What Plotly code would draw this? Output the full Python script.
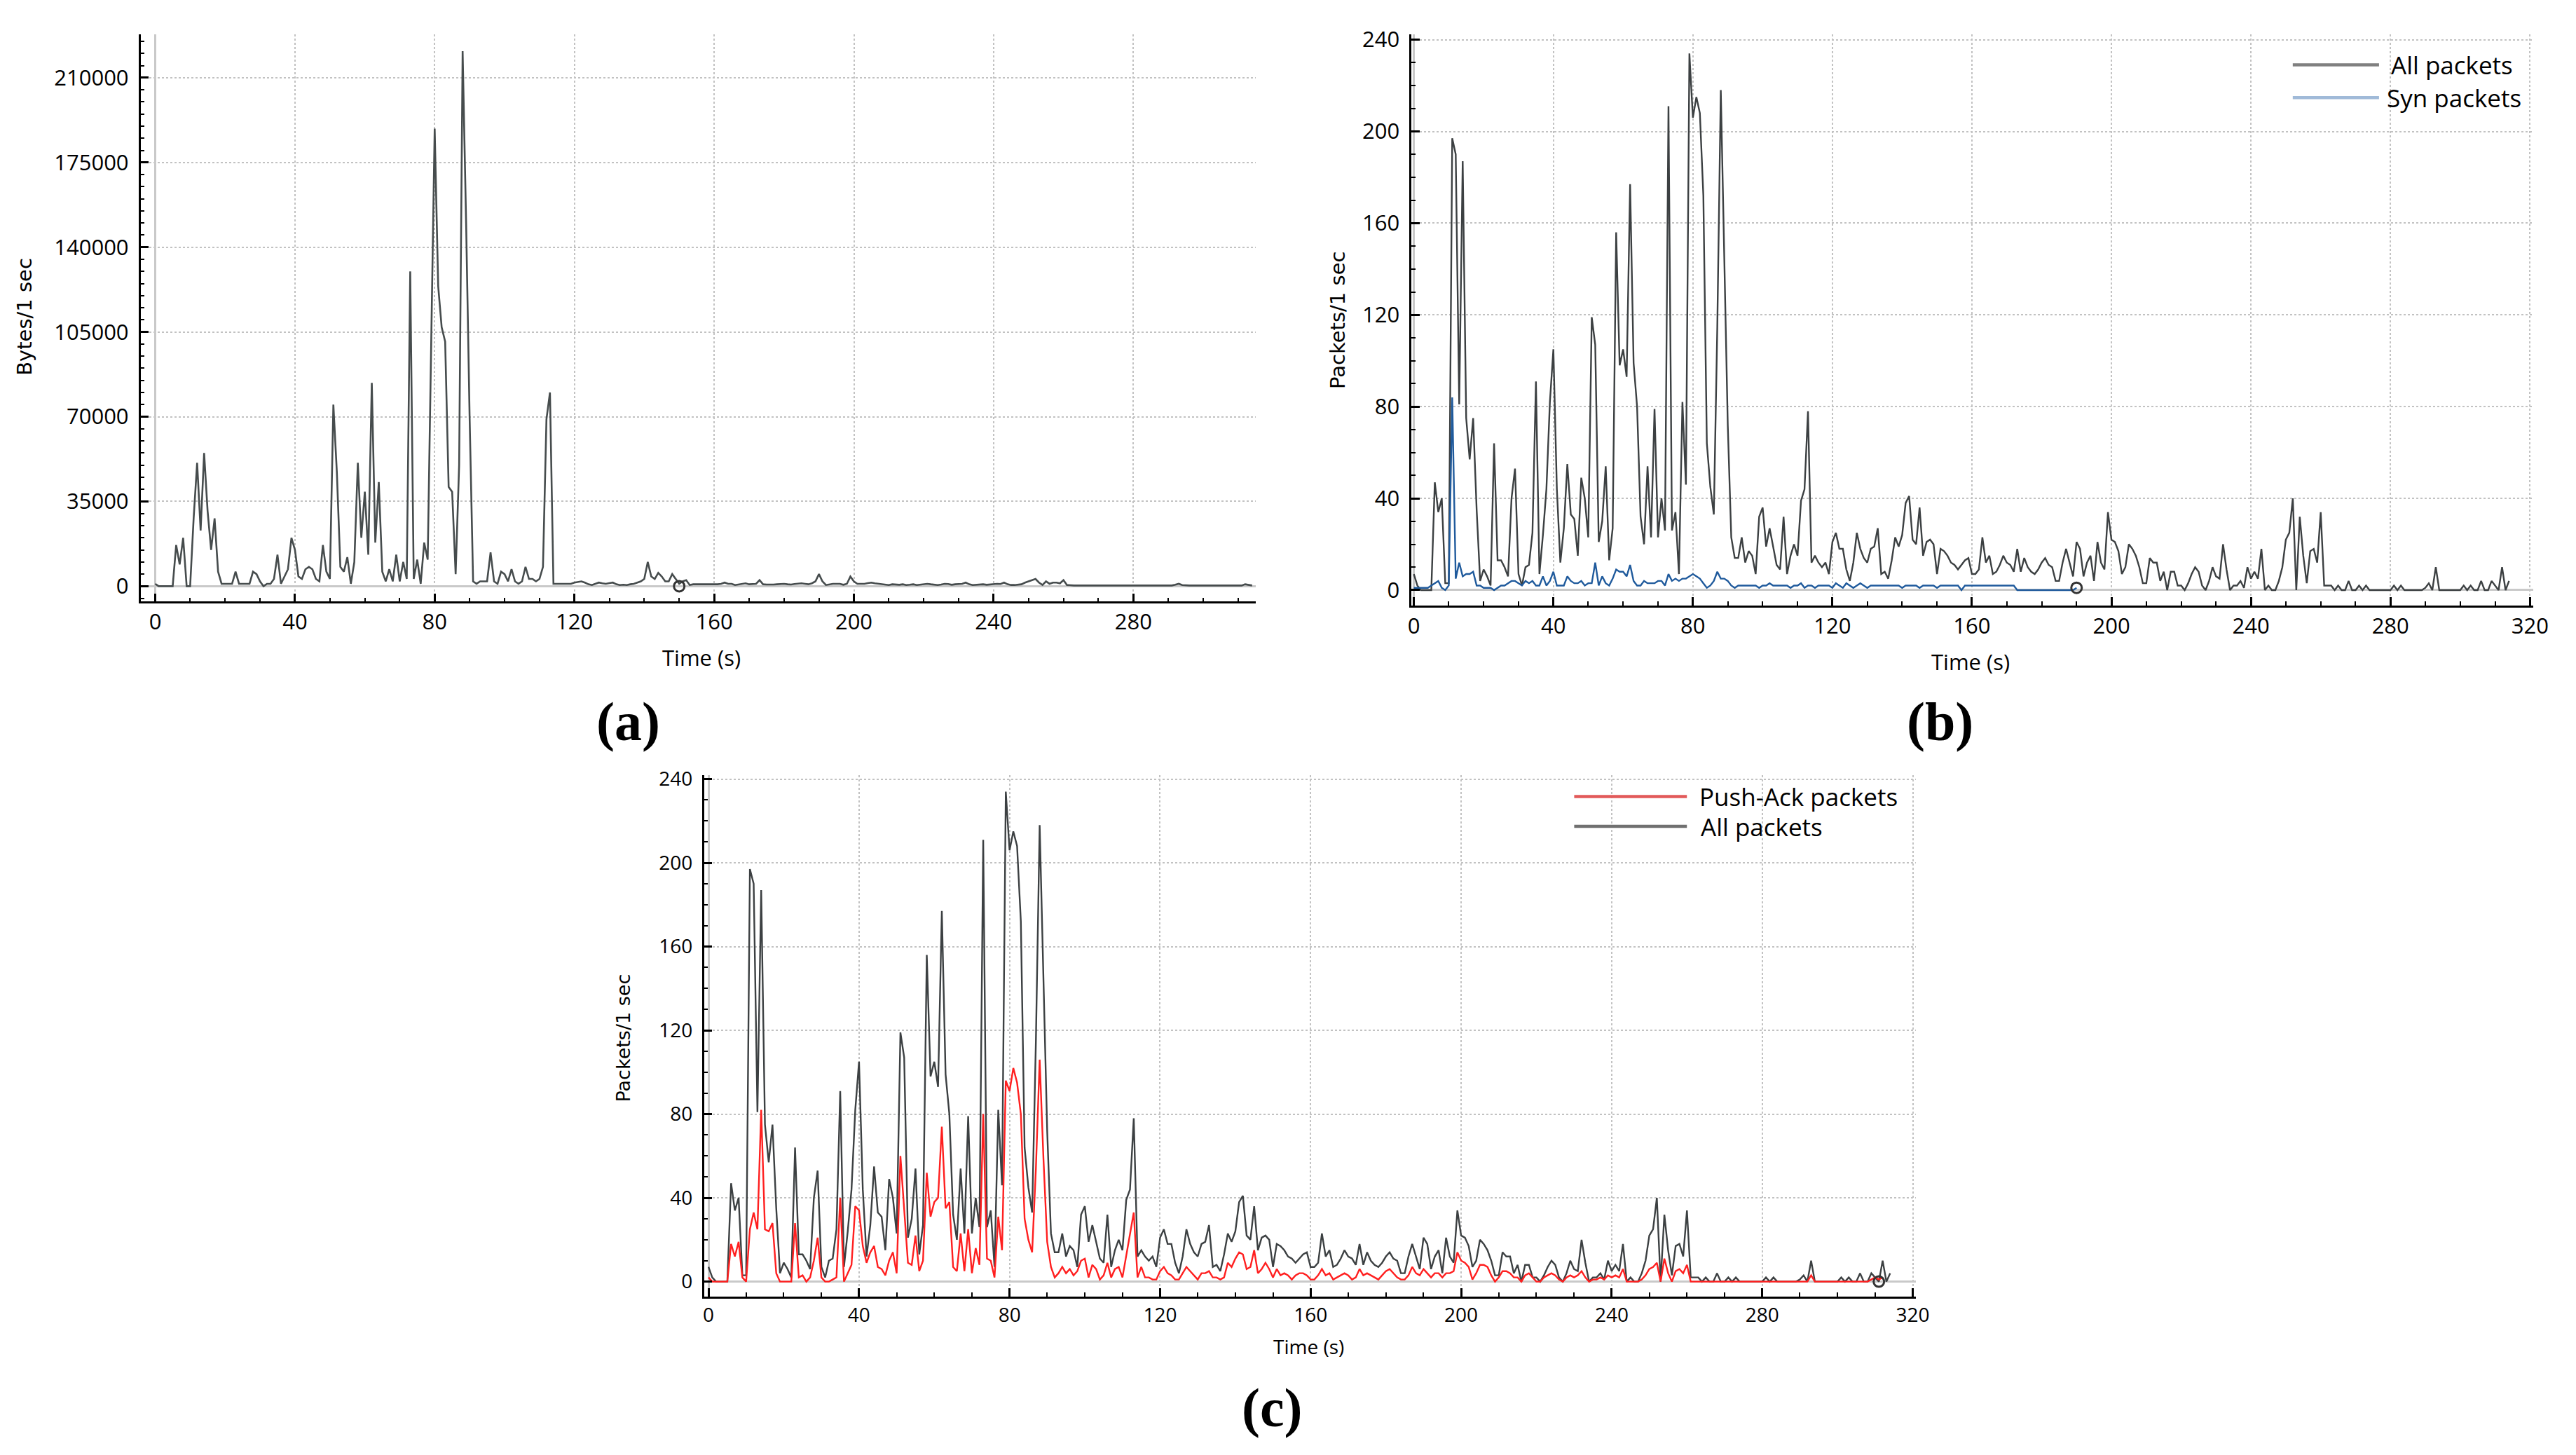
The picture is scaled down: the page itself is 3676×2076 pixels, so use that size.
import plotly.graph_objects as go

# ---------------- data ----------------
all_packets = [
    7, 2, 0, 0, 0, 0, 47, 34, 40, 3,
    3, 197, 190, 81, 187, 75, 57, 75, 35, 4,
    9, 6, 2, 64, 13, 13, 10, 6, 40, 53,
    7, 2, 10, 11, 25, 91, 7, 24, 44, 82,
    105, 44, 12, 27, 55, 33, 31, 15, 49, 40,
    23, 119, 107, 21, 30, 54, 13, 27, 156, 98,
    105, 93, 177, 99, 80, 32, 20, 54, 23, 79,
    23, 40, 26, 211, 26, 34, 7, 82, 46, 234,
    206, 215, 208, 172, 64, 45, 33, 115, 218, 147,
    72, 23, 14, 14, 23, 12, 17, 15, 7, 32,
    36, 19, 27, 19, 11, 9, 32, 7, 15, 20,
    15, 39, 44, 78, 12, 15, 12, 10, 12, 7,
    21, 25, 18, 18, 9, 4, 12, 25, 18, 14,
    12, 18, 19, 27, 7, 8, 5, 13, 23, 19,
    24, 38, 41, 22, 20, 36, 15, 21, 22, 20,
    7, 18, 17, 15, 12, 11, 9, 11, 13, 14,
    7, 7, 9, 23, 12, 15, 7, 8, 11, 15,
    12, 11, 8, 18, 8, 14, 10, 8, 7, 9,
    12, 14, 11, 10, 4, 4, 12, 18, 12, 6,
    21, 18, 6, 12, 15, 4, 21, 12, 9, 34,
    22, 21, 17, 7, 10, 20, 18, 15, 10, 3,
    3, 14, 12, 12, 4, 8, 0, 8, 8, 2,
    2, 0, 3, 7, 10, 8, 2, 0, 4, 10,
    6, 5, 20, 9, 0, 2, 2, 4, 1, 10,
    5, 8, 5, 18, 0, 2, 0, 0, 4, 10,
    22, 25, 40, 0, 32, 15, 3, 17, 18, 12,
    34, 2, 2, 2, 0, 2, 0, 0, 4, 0,
    0, 2, 0, 2, 0, 0, 0, 0, 0, 0,
    0, 2, 0, 2, 0, 0, 0, 0, 0, 0,
    1, 3, 0, 10, 0, 0, 0, 0, 0, 0,
    0, 2, 0, 2, 0, 0, 4, 0, 0, 4,
    2, 0, 10, 0, 4,
]
time_all = list(range(len(all_packets)))

push_ack_packets = [
    2, 0, 0, 0, 0, 0, 18, 12, 19, 2,
    0, 25, 33, 25, 82, 25, 24, 28, 4, 0,
    0, 0, 0, 28, 2, 3, 0, 2, 10, 21,
    2, 0, 0, 1, 2, 40, 0, 4, 8, 36,
    34, 17, 9, 14, 17, 7, 6, 3, 10, 14,
    4, 60, 35, 9, 8, 22, 5, 10, 52, 31,
    38, 40, 74, 35, 38, 7, 5, 23, 5, 25,
    4, 16, 8, 80, 11, 10, 2, 31, 15, 96,
    91, 102, 95, 80, 30, 20, 14, 54, 106, 59,
    19, 7, 2, 4, 7, 4, 6, 3, 5, 10,
    11, 2, 8, 6, 1, 3, 9, 2, 6, 7,
    2, 12, 22, 33, 2, 7, 2, 2, 1, 1,
    5, 7, 4, 3, 1, 1, 4, 7, 5, 3,
    1, 4, 4, 5, 2, 2, 1, 2, 9, 7,
    11, 14, 13, 6, 7, 15, 4, 6, 9, 6,
    2, 6, 3, 4, 3, 1, 3, 4, 4, 3,
    1, 1, 3, 6, 3, 4, 1, 2, 3, 4,
    3, 1, 2, 6, 3, 4, 3, 2, 1, 3,
    5, 6, 4, 2, 1, 1, 3, 7, 4, 3,
    6, 4, 2, 4, 4, 2, 4, 4, 5, 14,
    10, 9, 7, 1, 4, 8, 8, 7, 3, 0,
    2, 5, 5, 4, 2, 2, 0, 3, 4, 2,
    0, 0, 2, 3, 4, 3, 1, 0, 2, 3,
    2, 3, 5, 2, 0, 1, 1, 2, 1, 3,
    2, 3, 2, 6, 0, 0, 0, 0, 1, 3,
    6, 7, 9, 0, 11, 4, 0, 5, 6, 4,
    8, 0, 0, 0, 0, 0, 0, 0, 0, 0,
    0, 0, 0, 0, 0, 0, 0, 0, 0, 0,
    0, 0, 0, 0, 0, 0, 0, 0, 0, 0,
    0, 0, 0, 3, 0, 0, 0, 0, 0, 0,
    0, 0, 0, 0, 0, 0, 0, 0, 0, 1,
    2, 1, 2,
]
time_push_ack = list(range(len(push_ack_packets)))

syn_packets = [
    1, 1, 1, 1, 1, 2, 3, 4, 1, 0,
    2, 84, 5, 12, 6, 7, 7, 8, 2, 2,
    1, 1, 1, 0, 1, 2, 2, 3, 4, 4,
    3, 2, 4, 3, 4, 2, 2, 6, 2, 4,
    8, 2, 2, 2, 6, 4, 3, 3, 4, 2,
    3, 3, 12, 2, 6, 3, 2, 5, 9, 8,
    8, 6, 11, 4, 2, 2, 4, 3, 3, 3,
    4, 4, 2, 7, 4, 5, 4, 5, 5, 6,
    7, 6, 5, 3, 1, 2, 4, 8, 5, 5,
    4, 2, 1, 2, 2, 2, 2, 2, 2, 1,
    2, 2, 3, 2, 2, 2, 2, 2, 1, 2,
    2, 3, 1, 2, 2, 1, 2, 2, 2, 2,
    1, 3, 2, 1, 3, 2, 1, 2, 3, 2,
    1, 2, 2, 2, 2, 2, 2, 2, 2, 2,
    1, 2, 2, 2, 2, 1, 2, 2, 2, 2,
    1, 2, 2, 2, 2, 2, 2, 0, 2, 2,
    2, 2, 2, 2, 2, 2, 2, 2, 2, 2,
    2, 2, 2, 0, 0, 0, 0, 0, 0, 0,
    0, 0, 0, 0, 0, 0, 0, 0, 0, 0,
    1,
]
time_syn = list(range(len(syn_packets)))

bytes_per_sec = [
    1000, 0, 0, 0, 0, 0, 17000, 9000, 20000, 0,
    0, 28000, 51000, 23000, 55000, 31000, 15000, 28000, 6000, 1000,
    1000, 1000, 1000, 6000, 1000, 1000, 1000, 1000, 6000, 5000,
    2000, 0, 1000, 1000, 3000, 13000, 1000, 4000, 7000, 20000,
    15000, 4000, 3000, 7000, 8000, 7000, 3000, 2000, 17000, 6000,
    3000, 75000, 47000, 8000, 6000, 12000, 1000, 10000, 51000, 20000,
    39000, 13000, 84000, 18000, 43000, 6000, 2000, 7000, 2000, 13000,
    2000, 10000, 3000, 130000, 3000, 11000, 1000, 18000, 11000, 100000,
    189000, 124000, 107000, 101000, 41000, 39000, 5000, 50000, 221000, 150000,
    70000, 2000, 1000, 2000, 2000, 2000, 14000, 2000, 1000, 6000,
    5000, 2000, 7000, 2000, 1000, 2000, 8000, 3000, 3000, 2000,
    3000, 8000, 69000, 80000, 1000, 1000, 1000, 1000, 1000, 1000,
    1500, 1800, 2000, 1500, 800, 500, 1000, 1500, 1200, 1000,
    1300, 1500, 800, 500, 600, 500, 800, 1000, 1500, 2000,
    3000, 10000, 4000, 3000, 5500, 4000, 2000, 2000, 5000, 3000,
    1000, 2000, 2500, 500, 800, 800, 800, 600, 800, 800,
    700, 800, 1000, 1500, 1000, 1000, 500, 800, 1000, 1200,
    800, 1000, 1000, 2500, 800, 700, 600, 700, 800, 1000,
    1000, 800, 700, 900, 1000, 1200, 1000, 800, 1200, 2000,
    5000, 2000, 500, 800, 1000, 1000, 1000, 600, 1000, 4000,
    2000, 1000, 1000, 1000, 1300, 1500, 1200, 1000, 800, 600,
    500, 800, 700, 600, 800, 500, 600, 800, 500, 600,
    900, 1000, 800, 600, 500, 700, 1000, 900, 600, 800,
    1000, 1000, 1500, 800, 500, 600, 700, 800, 600, 800,
    1000, 1000, 900, 1500, 800, 500, 500, 600, 800, 1500,
    2000, 2500, 3000, 1500, 500, 2000, 1000, 1500, 1500, 1200,
    2500, 500, 300, 300, 300, 300, 300, 300, 300, 300,
    300, 300, 300, 300, 300, 300, 300, 300, 300, 300,
    300, 300, 300, 300, 300, 300, 300, 300, 300, 300,
    300, 300, 600, 1000, 500, 300, 300, 300, 300, 300,
    300, 300, 300, 300, 300, 300, 300, 300, 300, 300,
    300, 300, 800, 500, 300,
]
time_bytes = list(range(len(bytes_per_sec)))

# cursor markers (Wireshark style open circles)
cursor_a = ([150], [0])
cursor_b = ([190], [1])
cursor_c = ([311], [0])

x_title = "Time (s)"
y_title_a = "Bytes/1 sec"
y_title_bc = "Packets/1 sec"

# ---------------- styling ----------------
W, H = 3676, 2076


def fx(p):
    return p / W


def fy(p):
    return 1 - p / H


C_ALL = "#3c4042"
C_BYTES = "#464c4d"
C_SYN = "#1f5a9c"
C_PA = "#ff1f1f"

fig = go.Figure()

cursor_marker = dict(symbol="circle-open", size=15, color="#333",
                     line=dict(width=3, color="#333"))

fig.add_trace(go.Scatter(x=time_bytes, y=bytes_per_sec, mode="lines",
                         line=dict(color=C_BYTES, width=2.6),
                         xaxis="x", yaxis="y", showlegend=False, name="Bytes"))
fig.add_trace(go.Scatter(x=cursor_a[0], y=cursor_a[1], mode="markers",
                         marker=cursor_marker, xaxis="x", yaxis="y", showlegend=False))

fig.add_trace(go.Scatter(x=time_all, y=all_packets, mode="lines",
                         line=dict(color=C_ALL, width=2.4),
                         xaxis="x2", yaxis="y2", showlegend=False, name="All packets"))
fig.add_trace(go.Scatter(x=time_syn, y=syn_packets, mode="lines",
                         line=dict(color=C_SYN, width=2.4),
                         xaxis="x2", yaxis="y2", showlegend=False, name="Syn packets"))
fig.add_trace(go.Scatter(x=cursor_b[0], y=cursor_b[1], mode="markers",
                         marker=cursor_marker, xaxis="x2", yaxis="y2", showlegend=False))

fig.add_trace(go.Scatter(x=time_all, y=all_packets, mode="lines",
                         line=dict(color=C_ALL, width=2.4),
                         xaxis="x3", yaxis="y3", showlegend=False, name="All packets"))
fig.add_trace(go.Scatter(x=time_push_ack, y=push_ack_packets, mode="lines",
                         line=dict(color=C_PA, width=2.4),
                         xaxis="x3", yaxis="y3", showlegend=False, name="Push-Ack packets"))
fig.add_trace(go.Scatter(x=cursor_c[0], y=cursor_c[1], mode="markers",
                         marker=cursor_marker, xaxis="x3", yaxis="y3", showlegend=False))


def axis_common(fsize):
    return dict(showgrid=True, gridcolor="#c2c2c2", griddash="dot", gridwidth=2,
                zeroline=True, zerolinecolor="#c9c9c9", zerolinewidth=3,
                showline=True, linecolor="#000", linewidth=2.5,
                ticks="inside", ticklen=12, tickwidth=2.5, tickcolor="#000",
                tickfont=dict(family="Open Sans", size=fsize, color="#000"),
                fixedrange=True)


def xaxis(domain, rng, anchor, fsize):
    d = axis_common(fsize)
    d.update(domain=domain, range=rng, anchor=anchor, tick0=0, dtick=40,
             minor=dict(tick0=0, dtick=10, ticks="inside", ticklen=6, tickwidth=2,
                        tickcolor="#000", showgrid=False))
    return d


def yaxis(domain, rng, anchor, dtick, minor_dtick, fsize, fmt=None):
    d = axis_common(fsize)
    d.update(domain=domain, range=rng, anchor=anchor, tick0=0, dtick=dtick,
             ticklabelstandoff=8,
             minor=dict(tick0=0, dtick=minor_dtick, ticks="inside", ticklen=6,
                        tickwidth=2, tickcolor="#000", showgrid=False))
    if fmt:
        d["tickformat"] = fmt
    return d


layout = dict(
    width=W, height=H,
    margin=dict(l=0, r=0, t=0, b=0),
    paper_bgcolor="white", plot_bgcolor="white",
    showlegend=False,
    xaxis=xaxis([fx(197), fx(1800)], [-4.2, 315], "y", 31),
    yaxis=yaxis([fy(850), fy(35)], [-6330, 228000], "x", 35000, 5000, 31, "d"),
    xaxis2=xaxis([fx(2024), fx(3637)], [-0.7, 321], "y2", 31),
    yaxis2=yaxis([fy(856), fy(35)], [-6.8, 242.4], "x2", 40, 10, 31),
    xaxis3=xaxis([fx(1007), fx(2749)], [-1.2, 320.8], "y3", 28),
    yaxis3=yaxis([fy(1848), fy(1099)], [-7, 242], "x3", 40, 10, 28),
)
fig.update_layout(**layout)

annotations = []


def ann(text, x, y, size, family="Open Sans", angle=0, xanchor="center", bold=False):
    annotations.append(dict(
        text=("<b>%s</b>" % text) if bold else text,
        x=fx(x), y=fy(y), xref="paper", yref="paper", showarrow=False,
        xanchor=xanchor, yanchor="middle", textangle=angle,
        font=dict(family=family, size=size, color="#000")))


# axis titles
ann(y_title_a, 30, 441, 29, family="DejaVu Sans", angle=-90)
ann(x_title, 1003, 930, 31)
ann(y_title_bc, 1918, 446, 29, family="DejaVu Sans", angle=-90)
ann(x_title, 2828, 936, 31)
ann(y_title_bc, 891, 1477, 27, family="DejaVu Sans", angle=-90)
ann(x_title, 1876, 1920, 28)

# panel labels
ann("(a)", 898, 1022, 78, family="Liberation Serif", bold=True)
ann("(b)", 2784, 1022, 78, family="Liberation Serif", bold=True)
ann("(c)", 1824, 2008, 78, family="Liberation Serif", bold=True)

# legends (sample line + text)
shapes = []


def legend_item(x0, x1, y, color, text, tx, size):
    shapes.append(dict(type="line", xref="paper", yref="paper",
                       x0=fx(x0), x1=fx(x1), y0=fy(y), y1=fy(y),
                       line=dict(color=color, width=4.5)))
    ann(text, tx, y, size, xanchor="left")


legend_item(3291, 3415, 79, "#808080", "All packets", 3430, 35)
legend_item(3291, 3415, 126, "#a0bad8", "Syn packets", 3424, 35)
legend_item(2258, 2420, 1130, "#e25a5a", "Push-Ack packets", 2436, 35)
legend_item(2258, 2420, 1173, "#707070", "All packets", 2438, 35)

fig.update_layout(annotations=annotations, shapes=shapes)

fig.write_html(
    "out.html",
    config={"displayModeBar": False},
    post_script="document.body.style.margin='0';document.body.style.padding='0';"
                "document.body.style.overflow='hidden';",
)
